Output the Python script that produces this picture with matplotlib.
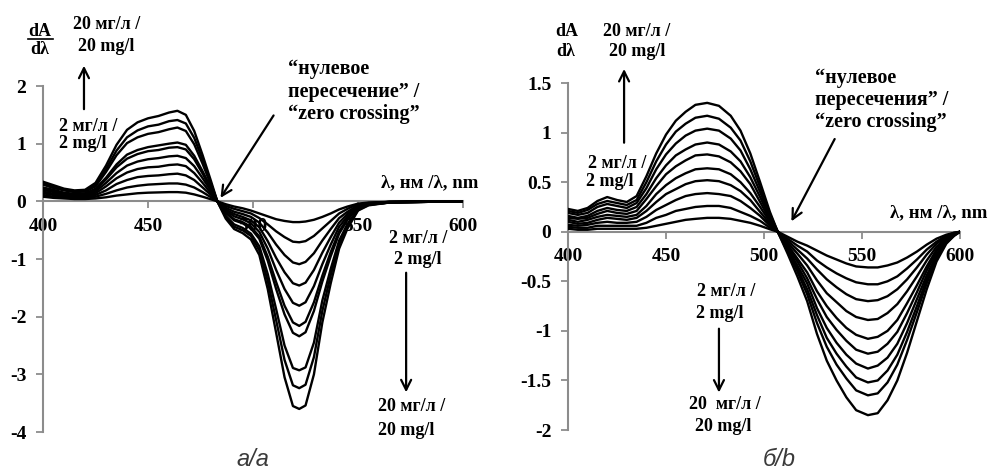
import matplotlib
matplotlib.use('Agg')
import matplotlib.pyplot as plt
from matplotlib.lines import Line2D

plt.rcParams['font.family'] = ['Liberation Serif', 'DejaVu Serif']
plt.rcParams['font.weight'] = 'bold'
plt.rcParams['axes.unicode_minus'] = False

# ---- panel a: first-derivative spectra, 2..20 mg/l ----
wl_a = [400, 405, 410, 415, 420, 425, 430, 435, 440, 445, 450, 455, 460, 464, 468, 472, 476, 480, 483,
        487, 491, 495, 499, 503, 507, 511, 515, 519, 522, 525, 529, 533, 537, 541, 545, 550, 555, 565, 580, 600]

a_02 = [0.08, 0.06, 0.05, 0.04, 0.04, 0.05, 0.07, 0.10, 0.12, 0.14, 0.15, 0.155, 0.16, 0.16, 0.15, 0.12, 0.08, 0.035, 0.0,
        -0.05, -0.09, -0.12, -0.16, -0.21, -0.26, -0.31, -0.34, -0.36, -0.36, -0.35, -0.32, -0.27, -0.21, -0.14, -0.09, -0.04, -0.02, -0.01, 0.0, 0.0]
a_04 = [0.11, 0.08, 0.07, 0.06, 0.06, 0.08, 0.13, 0.19, 0.24, 0.27, 0.29, 0.30, 0.31, 0.31, 0.29, 0.24, 0.16, 0.07, 0.0,
        -0.08, -0.13, -0.17, -0.21, -0.29, -0.40, -0.52, -0.62, -0.70, -0.71, -0.69, -0.60, -0.47, -0.34, -0.21, -0.13, -0.05, -0.03, -0.01, 0.0, 0.0]
a_06 = [0.14, 0.11, 0.09, 0.07, 0.08, 0.11, 0.19, 0.30, 0.37, 0.42, 0.44, 0.45, 0.47, 0.48, 0.45, 0.37, 0.24, 0.11, 0.0,
        -0.11, -0.18, -0.22, -0.27, -0.37, -0.54, -0.75, -0.93, -1.06, -1.09, -1.05, -0.90, -0.68, -0.48, -0.29, -0.18, -0.07, -0.03, -0.01, 0.0, 0.0]
a_08 = [0.17, 0.13, 0.11, 0.09, 0.09, 0.14, 0.26, 0.40, 0.50, 0.56, 0.59, 0.60, 0.63, 0.64, 0.61, 0.49, 0.32, 0.14, 0.0,
        -0.14, -0.22, -0.27, -0.33, -0.45, -0.69, -0.98, -1.23, -1.42, -1.46, -1.41, -1.19, -0.89, -0.62, -0.37, -0.22, -0.08, -0.04, -0.01, 0.0, 0.0]
a_10 = [0.20, 0.16, 0.13, 0.11, 0.11, 0.17, 0.32, 0.49, 0.62, 0.69, 0.73, 0.75, 0.78, 0.79, 0.75, 0.61, 0.40, 0.18, 0.0,
        -0.16, -0.26, -0.31, -0.38, -0.53, -0.82, -1.19, -1.52, -1.76, -1.81, -1.75, -1.47, -1.09, -0.75, -0.44, -0.26, -0.09, -0.04, -0.01, -0.01, 0.0]
a_12 = [0.22, 0.18, 0.14, 0.12, 0.13, 0.20, 0.38, 0.59, 0.74, 0.82, 0.87, 0.89, 0.93, 0.94, 0.90, 0.73, 0.48, 0.21, 0.0,
        -0.19, -0.31, -0.36, -0.44, -0.61, -0.96, -1.40, -1.81, -2.10, -2.16, -2.09, -1.75, -1.29, -0.88, -0.52, -0.30, -0.11, -0.05, -0.02, -0.01, 0.0]
a_14 = [0.24, 0.20, 0.15, 0.13, 0.14, 0.22, 0.41, 0.64, 0.81, 0.89, 0.94, 0.97, 1.00, 1.02, 0.98, 0.79, 0.52, 0.23, 0.0,
        -0.20, -0.33, -0.38, -0.47, -0.65, -1.03, -1.52, -1.96, -2.28, -2.34, -2.27, -1.90, -1.39, -0.95, -0.56, -0.32, -0.11, -0.05, -0.02, -0.01, 0.0]
a_16 = [0.29, 0.23, 0.19, 0.16, 0.17, 0.26, 0.51, 0.80, 1.01, 1.11, 1.17, 1.20, 1.25, 1.28, 1.22, 0.99, 0.65, 0.28, 0.0,
        -0.25, -0.40, -0.46, -0.56, -0.78, -1.26, -1.87, -2.50, -2.89, -2.93, -2.88, -2.45, -1.72, -1.17, -0.68, -0.39, -0.14, -0.06, -0.02, -0.01, 0.0]
a_18 = [0.31, 0.26, 0.20, 0.17, 0.18, 0.29, 0.56, 0.88, 1.11, 1.23, 1.30, 1.33, 1.39, 1.41, 1.35, 1.10, 0.72, 0.31, 0.0,
        -0.27, -0.44, -0.50, -0.60, -0.85, -1.38, -2.06, -2.75, -3.19, -3.24, -3.18, -2.70, -1.90, -1.28, -0.74, -0.43, -0.15, -0.06, -0.02, -0.01, 0.0]
a_20 = [0.34, 0.28, 0.22, 0.19, 0.20, 0.32, 0.62, 0.98, 1.24, 1.37, 1.44, 1.48, 1.54, 1.57, 1.50, 1.22, 0.80, 0.35, 0.0,
        -0.30, -0.48, -0.55, -0.66, -0.93, -1.52, -2.28, -3.05, -3.55, -3.60, -3.54, -3.00, -2.10, -1.42, -0.82, -0.47, -0.16, -0.07, -0.02, -0.01, 0.0]

# ---- panel b ----
wl_b = [400, 405, 410, 415, 420, 425, 430, 435, 440, 445, 450, 455, 460, 465, 471, 477, 483, 488, 493, 498, 503,
        507, 512, 517, 522, 527, 532, 537, 542, 547, 553, 558, 563, 568, 573, 578, 583, 588, 593, 597, 600]

b_02 = [0.03, 0.02, 0.02, 0.03, 0.03, 0.03, 0.03, 0.03, 0.04, 0.06, 0.08, 0.10, 0.12, 0.13, 0.14, 0.14, 0.13, 0.11, 0.09, 0.06, 0.025,
        0.0, -0.05, -0.10, -0.14, -0.19, -0.24, -0.28, -0.32, -0.35, -0.36, -0.36, -0.34, -0.31, -0.26, -0.20, -0.13, -0.07, -0.03, -0.01, 0.0]
b_04 = [0.05, 0.04, 0.04, 0.06, 0.06, 0.06, 0.06, 0.06, 0.09, 0.14, 0.17, 0.21, 0.23, 0.25, 0.26, 0.26, 0.24, 0.20, 0.16, 0.11, 0.04,
        0.0, -0.07, -0.14, -0.20, -0.29, -0.36, -0.42, -0.47, -0.51, -0.53, -0.53, -0.50, -0.45, -0.37, -0.28, -0.18, -0.10, -0.04, -0.01, 0.0]
b_06 = [0.07, 0.06, 0.07, 0.09, 0.10, 0.09, 0.09, 0.10, 0.15, 0.22, 0.27, 0.32, 0.36, 0.38, 0.39, 0.38, 0.36, 0.31, 0.24, 0.16, 0.06,
        0.0, -0.09, -0.18, -0.27, -0.38, -0.48, -0.56, -0.63, -0.68, -0.70, -0.69, -0.65, -0.58, -0.48, -0.36, -0.23, -0.12, -0.05, -0.02, 0.0]
b_08 = [0.10, 0.08, 0.09, 0.12, 0.14, 0.13, 0.12, 0.14, 0.21, 0.30, 0.38, 0.43, 0.48, 0.51, 0.52, 0.51, 0.47, 0.41, 0.32, 0.20, 0.08,
        0.0, -0.11, -0.22, -0.34, -0.49, -0.62, -0.71, -0.80, -0.86, -0.89, -0.88, -0.82, -0.73, -0.60, -0.45, -0.29, -0.15, -0.06, -0.02, 0.0]
b_10 = [0.12, 0.10, 0.12, 0.15, 0.17, 0.16, 0.15, 0.17, 0.26, 0.38, 0.47, 0.54, 0.59, 0.63, 0.64, 0.63, 0.58, 0.50, 0.39, 0.25, 0.10,
        0.0, -0.13, -0.27, -0.41, -0.60, -0.75, -0.87, -0.97, -1.04, -1.08, -1.06, -1.00, -0.89, -0.72, -0.54, -0.35, -0.18, -0.07, -0.02, 0.0]
b_12 = [0.14, 0.13, 0.14, 0.18, 0.21, 0.19, 0.18, 0.21, 0.33, 0.46, 0.58, 0.66, 0.72, 0.77, 0.78, 0.76, 0.70, 0.61, 0.48, 0.30, 0.12,
        0.0, -0.15, -0.30, -0.47, -0.68, -0.86, -0.99, -1.10, -1.19, -1.23, -1.21, -1.13, -1.01, -0.82, -0.61, -0.39, -0.20, -0.08, -0.03, 0.0]
b_14 = [0.16, 0.14, 0.16, 0.21, 0.24, 0.22, 0.21, 0.25, 0.38, 0.54, 0.67, 0.77, 0.83, 0.88, 0.90, 0.88, 0.81, 0.71, 0.55, 0.35, 0.14,
        0.0, -0.17, -0.34, -0.52, -0.77, -0.97, -1.12, -1.24, -1.33, -1.38, -1.35, -1.27, -1.13, -0.92, -0.68, -0.44, -0.23, -0.09, -0.03, 0.0]
b_16 = [0.19, 0.17, 0.19, 0.25, 0.28, 0.26, 0.24, 0.29, 0.44, 0.63, 0.78, 0.89, 0.97, 1.02, 1.04, 1.02, 0.94, 0.82, 0.63, 0.40, 0.16,
        0.0, -0.18, -0.37, -0.58, -0.84, -1.07, -1.23, -1.36, -1.47, -1.52, -1.50, -1.40, -1.24, -1.01, -0.75, -0.48, -0.25, -0.10, -0.03, 0.0]
b_18 = [0.21, 0.19, 0.22, 0.28, 0.31, 0.29, 0.27, 0.32, 0.50, 0.71, 0.88, 1.01, 1.09, 1.15, 1.17, 1.14, 1.05, 0.92, 0.71, 0.45, 0.18,
        0.0, -0.20, -0.40, -0.63, -0.92, -1.16, -1.34, -1.48, -1.60, -1.65, -1.63, -1.52, -1.34, -1.09, -0.81, -0.52, -0.27, -0.11, -0.04, 0.0]
b_20 = [0.23, 0.21, 0.24, 0.31, 0.35, 0.32, 0.30, 0.36, 0.56, 0.79, 0.98, 1.12, 1.21, 1.28, 1.30, 1.27, 1.17, 1.02, 0.79, 0.50, 0.20,
        0.0, -0.22, -0.45, -0.70, -1.03, -1.30, -1.50, -1.67, -1.80, -1.85, -1.83, -1.70, -1.50, -1.22, -0.90, -0.58, -0.30, -0.12, -0.04, 0.0]

curves_a = [a_02, a_04, a_06, a_08, a_10, a_12, a_14, a_16, a_18, a_20]
curves_b = [b_02, b_04, b_06, b_08, b_10, b_12, b_14, b_16, b_18, b_20]

xticks = [400, 450, 500, 550, 600]
yticks_a = [-4, -3, -2, -1, 0, 1, 2]
ylabels_a = ['-4', '-3', '-2', '-1', '0', '1', '2']
yticks_b = [-2, -1.5, -1, -0.5, 0, 0.5, 1, 1.5]
ylabels_b = ['-2', '-1.5', '-1', '-0.5', '0', '0.5', '1', '1.5']

AXC = '#8c8c8c'
FS = 13


def setup(ax, yt, yl):
    for s in ['top', 'right']:
        ax.spines[s].set_visible(False)
    ax.spines['bottom'].set_position(('data', 0))
    for s in ['left', 'bottom']:
        ax.spines[s].set_color(AXC)
        ax.spines[s].set_linewidth(1.5)
    ax.set_xlim(400, 600)
    ax.set_xticks(xticks)
    ax.set_yticks(yt)
    ax.set_yticklabels(yl)
    ax.tick_params(axis='both', colors=AXC, labelcolor='black', length=5, width=1.3,
                   labelsize=14, direction='out')
    ax.tick_params(axis='y', pad=7)
    ax.tick_params(axis='x', pad=7)
    ax.set_axisbelow(True)
    ax.patch.set_visible(False)


def arrow(ax, tip, start):
    ax.annotate('', xy=tip, xytext=start, annotation_clip=False,
                arrowprops=dict(arrowstyle='->', lw=1.6, color='black', mutation_scale=18))


def txt(ax, x, y, s, **kw):
    ax.text(x, y, s, ha=kw.pop('ha', 'center'), va='center', fontsize=kw.pop('fontsize', FS),
            clip_on=False, **kw)


fig = plt.figure(figsize=(9.96, 4.71), dpi=100)
ax1 = fig.add_axes([0.0432, 0.0828, 0.4217, 0.7346])
ax2 = fig.add_axes([0.5703, 0.0870, 0.3936, 0.7367])

for c in curves_a:
    ax1.plot(wl_a, c, color='black', lw=1.7, solid_joinstyle='round', zorder=3)
setup(ax1, yticks_a, ylabels_a)
ax1.set_ylim(-4, 2)

for c in curves_b:
    ax2.plot(wl_b, c, color='black', lw=1.7, solid_joinstyle='round', zorder=3)
setup(ax2, yticks_b, ylabels_b)
ax2.set_ylim(-2, 1.5)

# panel a annotations
txt(ax1, 398.6, 2.95, 'dA')
txt(ax1, 398.6, 2.64, 'dλ')
fig.add_artist(Line2D([0.0281, 0.0532], [0.9172, 0.9172], color='black', lw=1.2))
txt(ax1, 430.5, 3.07, '20 мг/л /')
txt(ax1, 430.0, 2.68, '20 mg/l')
arrow(ax1, (419.5, 2.40), (419.5, 1.55))
txt(ax1, 421.4, 1.29, '2 мг/л /')
txt(ax1, 419.0, 1.01, '2 mg/l')
txt(ax1, 516.7, 1.90, '“нулевое\nпересечение” /\n“zero crossing”', ha='left',
    fontsize=14.5, linespacing=1.18)
arrow(ax1, (483.8, 0.02), (510.5, 1.53))
txt(ax1, 584.3, 0.32, 'λ, нм /λ, nm', fontsize=13.5)
txt(ax1, 578.6, -0.64, '2 мг/л /')
txt(ax1, 578.6, -1.00, '2 mg/l')
arrow(ax1, (572.9, -3.36), (572.9, -1.19))
txt(ax1, 575.7, -3.55, '20 мг/л /')
txt(ax1, 572.9, -3.98, '20 mg/l')
txt(ax1, 500.0, -4.47, 'а/a', family='Liberation Sans', style='italic', weight='normal',
    fontsize=17, color='#3a3a3a')

# panel b annotations
txt(ax2, 399.5, 2.02, 'dA')
txt(ax2, 399.0, 1.82, 'dλ')
txt(ax2, 435.2, 2.02, '20 мг/л /')
txt(ax2, 435.2, 1.82, '20 mg/l')
arrow(ax2, (428.6, 1.67), (428.6, 0.87))
txt(ax2, 425.0, 0.69, '2 мг/л /')
txt(ax2, 421.4, 0.51, '2 mg/l')
txt(ax2, 526.0, 1.33, '“нулевое\nпересечения” /\n“zero crossing”', ha='left',
    fontsize=14.5, linespacing=1.12)
arrow(ax2, (513.3, 0.08), (536.7, 0.96))
txt(ax2, 589.3, 0.19, 'λ, нм /λ, nm', fontsize=13.5)
txt(ax2, 480.6, -0.60, '2 мг/л /')
txt(ax2, 477.6, -0.82, '2 mg/l')
arrow(ax2, (477.0, -1.65), (477.0, -0.95))
txt(ax2, 480.0, -1.74, '20  мг/л /')
txt(ax2, 479.0, -1.96, '20 mg/l')
txt(ax2, 508.0, -2.30, 'б/b', family='Liberation Sans', style='italic', weight='normal',
    fontsize=17, color='#3a3a3a')

fig.savefig('out.png', dpi=100, facecolor='white')
